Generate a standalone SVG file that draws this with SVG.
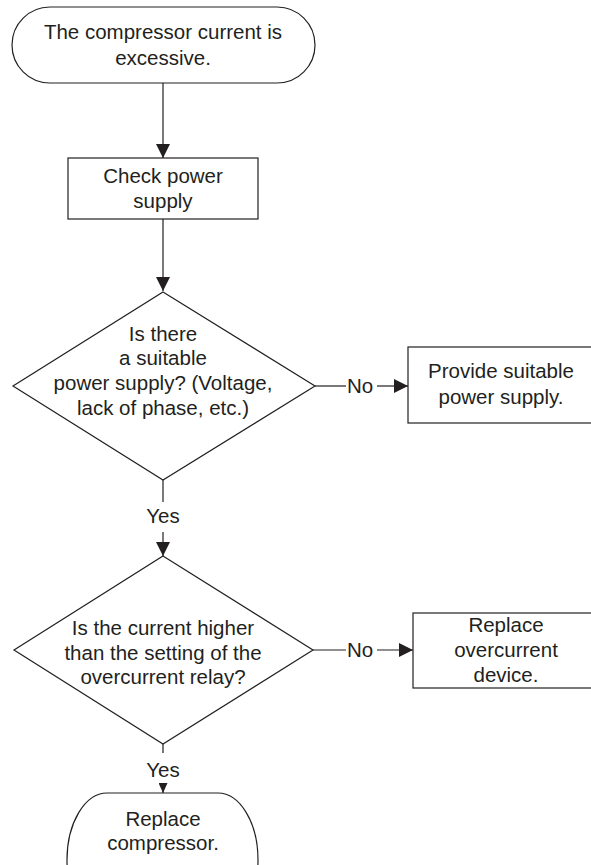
<svg xmlns="http://www.w3.org/2000/svg" width="591" height="865" viewBox="0 0 591 865">
<style>
.s{fill:#fff;stroke:#231f20;stroke-width:1.2}
.l{fill:none;stroke:#231f20;stroke-width:1.2}
text{font-family:"Liberation Sans",Arial,sans-serif;font-size:20.5px;fill:#231f20;text-anchor:middle}
</style>
<defs>
<marker id="ah" markerUnits="userSpaceOnUse" markerWidth="14" markerHeight="14" refX="14" refY="7" orient="auto">
<path d="M0,0 L14,7 L0,14 Z" fill="#231f20"/>
</marker>
<marker id="ahs" markerUnits="userSpaceOnUse" markerWidth="10" markerHeight="9" refX="10" refY="4.5" orient="auto">
<path d="M0,0 L10,4.5 L0,9 Z" fill="#231f20"/>
</marker>
</defs>
<g id="connectors">
<line class="l" x1="163" y1="83" x2="163" y2="158" marker-end="url(#ah)"/>
<line class="l" x1="163" y1="219" x2="163" y2="291" marker-end="url(#ah)"/>
<line class="l" x1="315" y1="386" x2="346" y2="386"/>
<text x="360" y="393">No</text>
<line class="l" x1="377" y1="386" x2="408" y2="386" marker-end="url(#ah)"/>
<line class="l" x1="163" y1="480" x2="163" y2="502"/>
<text x="163" y="523">Yes</text>
<line class="l" x1="163" y1="532" x2="163" y2="556" marker-end="url(#ah)"/>
<line class="l" x1="313" y1="650" x2="346" y2="650"/>
<text x="360" y="657">No</text>
<line class="l" x1="377" y1="650" x2="413" y2="650" marker-end="url(#ah)"/>
<line class="l" x1="163" y1="744" x2="163" y2="753"/>
<text x="163" y="777">Yes</text>
<line class="l" x1="163" y1="783" x2="163" y2="793" marker-end="url(#ahs)"/>
</g>
<g id="start">
<rect class="s" x="12" y="7" width="303" height="76" rx="38" ry="38"/>
<text x="163" y="39">The compressor current is</text>
<text x="163" y="65">excessive.</text>
</g>
<g id="check">
<rect class="s" x="68" y="158" width="190" height="61"/>
<text x="163" y="183">Check power</text>
<text x="163" y="208">supply</text>
</g>
<g id="decision1">
<polygon class="s" points="163,292 315,386 163,480 13,386"/>
<text x="163" y="341">Is there</text>
<text x="163" y="365">a suitable</text>
<text x="163" y="390">power supply? (Voltage,</text>
<text x="163" y="415">lack of phase, etc.)</text>
</g>
<g id="provide">
<rect class="s" x="408" y="347" width="188" height="76"/>
<text x="501" y="378">Provide suitable</text>
<text x="501" y="404">power supply.</text>
</g>
<g id="decision2">
<polygon class="s" points="163,556 313,650 163,744 14,650"/>
<text x="163" y="635">Is the current higher</text>
<text x="163" y="660">than the setting of the</text>
<text x="163" y="684">overcurrent relay?</text>
</g>
<g id="replace-device">
<rect class="s" x="413" y="613" width="186" height="75"/>
<text x="506" y="632">Replace</text>
<text x="506" y="657">overcurrent</text>
<text x="506" y="682">device.</text>
</g>
<g id="end">
<rect class="s" x="67" y="793" width="191" height="134" rx="40" ry="67"/>
<text x="163" y="826">Replace</text>
<text x="163" y="850">compressor.</text>
</g>
</svg>
